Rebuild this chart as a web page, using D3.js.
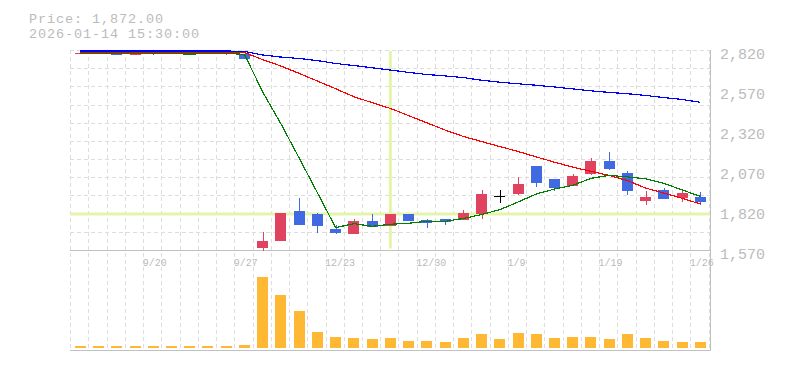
<!DOCTYPE html>
<html><head><meta charset="utf-8">
<script src="https://cdn.jsdelivr.net/npm/d3@7/dist/d3.min.js"></script>
<style>
html,body{margin:0;padding:0;background:#fff;}
svg{display:block;}
text{font-family:"Liberation Mono","DejaVu Sans Mono",monospace;fill:#bbbbbb;}
</style></head>
<body>
<svg id="c" width="785" height="370"></svg>
<script>
// ---- data ----
const dates = ["9/13","9/17","9/18","9/19","9/20","9/23","9/24","9/25","9/26","9/27",
  "12/17","12/18","12/19","12/22","12/23","12/24","12/25","12/26","12/29","12/30",
  "1/5","1/6","1/7","1/8","1/9","1/13","1/14","1/15","1/16","1/19",
  "1/20","1/21","1/22","1/23","1/26"];
const tickLabels = ["9/20","9/27","12/23","12/30","1/9","1/19","1/26"];
const open  = [2798,2798,2804,2792,2804,2798,2804,2801,2798,2798,
  1586,1629,1817,1798,1704,1673,1754,1723,1798,1761,
  1767,1761,1798,1906,1923,2097,2017,1973,2048,2129,
  2054,1879,1948,1898,1904];
const high  = [2806,2812,2820,2800,2806,2806,2806,2804,2812,2800,
  1685,1804,1898,1804,1729,1767,1798,1798,1798,1767,
  1767,1823,1948,1948,2029,2097,2017,2048,2148,2186,
  2067,1942,1961,1942,1936];
const low   = [2796,2796,2790,2790,2792,2796,2796,2798,2792,2765,
  1570,1629,1730,1681,1673,1673,1714,1723,1754,1711,
  1729,1761,1767,1869,1920,1969,1944,1973,2042,2073,
  1917,1854,1892,1873,1854];
const close = [2804,2810,2792,2798,2798,2804,2798,2801,2810,2767,
  1629,1804,1730,1723,1679,1754,1717,1798,1754,1744,
  1748,1804,1923,1906,1986,1994,1962,2036,2129,2079,
  1942,1904,1892,1929,1872];
const volume = [5,5,5,5,5,5,5,5,5,8,
  212,158,110,47,32,29,26,29,20,20,
  17,29,41,26,44,41,29,32,32,26,
  41,29,20,17,17];
const ma5  = [2800,2801,2800,2800,2800,2800,2798,2800,2802,2796,
  2561,2362,2148,1931,1713,1738,1721,1734,1740,1753,
  1752,1770,1795,1825,1873,1923,1954,1977,2021,2040,
  2030,2018,1989,1949,1908];
const ma25 = [2808,2808,2808,2808,2808,2808,2808,2808,2808,2807,
  2763,2723,2677,2629,2581,2531,2494,2458,2413,2368,
  2323,2283,2251,2220,2189,2155,2122,2091,2065,2039,
  2007,1960,1929,1896,1861];
const ma75 = [2817,2817,2817,2817,2817,2817,2817,2817,2817,2814,
  2792,2779,2770,2757,2739,2726,2712,2698,2683,2670,
  2661,2651,2634,2622,2612,2603,2592,2580,2568,2558,
  2550,2539,2526,2514,2496];
const priceTicks = [1570,1820,2070,2320,2570,2820];
const headerPrice = 1872;
const headerTime = "2026-01-14 15:30:00";
const cursorIndex = 17;

// ---- drawing ----
const svg = d3.select("#c");
const n = dates.length;
const x = d3.scaleBand().domain(d3.range(n)).range([71.2, 709.5]);
const cx = i => x(i) + x.bandwidth()/2;
const y = d3.scaleLinear().domain([1570, 2820]).range([250.5, 50.5]);
const yv = d3.scaleLinear().domain([0, 240]).range([348, 268]);
const crisp = v => Math.round(v - 0.5) + 0.5;
const bodyW = 11;

// header
svg.append("text").attr("x", 29).attr("y", 22.5).style("font-size", "13.5px")
  .style("letter-spacing", "0.9px")
  .text("Price: " + d3.format(",.2f")(headerPrice));
svg.append("text").attr("x", 29).attr("y", 38).style("font-size", "13.5px")
  .style("letter-spacing", "0.9px")
  .text(headerTime);

// grid
const grid = svg.append("g").attr("stroke", "#dddddd").attr("stroke-dasharray", "4,3")
  .attr("shape-rendering", "crispEdges");
d3.range(11).forEach(k => {
  const v = 2820 - k * (2820 - 1570) / 11;
  grid.append("line").attr("x1", 70).attr("x2", 710).attr("y1", crisp(y(v))).attr("y2", crisp(y(v)));
});
d3.range(n + 1).forEach(i => {
  const xx = crisp(71.2 + i * x.step() - 0.5);
  grid.append("line").attr("x1", xx).attr("x2", xx).attr("y1", 50).attr("y2", 350);
});

// axes lines
const ax = svg.append("g").attr("stroke", "#c0c0c0").attr("shape-rendering", "crispEdges");
ax.append("line").attr("x1", 70).attr("x2", 711).attr("y1", crisp(y(1570))).attr("y2", crisp(y(1570)));
ax.append("line").attr("x1", 70).attr("x2", 711).attr("y1", 350.5).attr("y2", 350.5);
ax.append("line").attr("x1", 710.5).attr("x2", 710.5).attr("y1", 50).attr("y2", 351);

// y labels
svg.append("g").selectAll("text").data(priceTicks).join("text")
  .attr("x", 720).attr("y", d => y(d) + 8).style("font-size", "15px")
  .text(d => d3.format(",")(d));

// x labels
svg.append("g").selectAll("text").data(tickLabels).join("text")
  .attr("x", d => cx(dates.indexOf(d)) - 10.6).attr("y", 266).style("font-size", "10px")
  .text(d => d);

// crosshair
const ch = svg.append("g").attr("stroke", "#e4f5aa").attr("stroke-width", 3);
ch.append("line").attr("x1", cx(cursorIndex)).attr("x2", cx(cursorIndex)).attr("y1", 51).attr("y2", 248.5);
ch.append("line").attr("x1", 70).attr("x2", 710).attr("y1", y(close[cursorIndex])).attr("y2", y(close[cursorIndex]));

// volume
svg.append("g").attr("fill", "#ffb833").attr("shape-rendering", "crispEdges")
  .selectAll("rect").data(volume).join("rect")
  .attr("x", (d, i) => Math.round(cx(i) - bodyW/2)).attr("width", bodyW)
  .attr("y", d => yv(d)).attr("height", d => yv(0) - yv(d));

// candles
const col = i => close[i] > open[i] ? "#e0435f" : (close[i] < open[i] ? "#4169e1" : "#000000");
const cg = svg.append("g").attr("shape-rendering", "crispEdges");
d3.range(n).forEach(i => {
  const c = col(i);
  cg.append("line").attr("x1", Math.round(cx(i)) + 0.5).attr("x2", Math.round(cx(i)) + 0.5)
    .attr("y1", y(high[i])).attr("y2", y(low[i])).attr("stroke", c).attr("stroke-width", 1.3);
  const top = y(Math.max(open[i], close[i]));
  const bot = y(Math.min(open[i], close[i]));
  if (open[i] === close[i]) {
    cg.append("line").attr("x1", Math.round(cx(i) - bodyW/2)).attr("x2", Math.round(cx(i) - bodyW/2) + bodyW)
      .attr("y1", crisp(top)).attr("y2", crisp(top)).attr("stroke", c);
  } else {
    cg.append("rect").attr("x", Math.round(cx(i) - bodyW/2)).attr("width", bodyW)
      .attr("y", top).attr("height", Math.max(1, bot - top)).attr("fill", c);
  }
});

// moving averages
const lineGen = arr => d3.line().x((d, i) => cx(i)).y(d => y(d))(arr);
[[ma75, "#0000ff"], [ma25, "#ff0000"], [ma5, "#008000"]].forEach(([arr, c]) => {
  svg.append("path").attr("d", lineGen(arr)).attr("fill", "none").attr("stroke", c)
    .attr("stroke-width", 1.2).attr("shape-rendering", "crispEdges");
});
</script>
</body></html>
